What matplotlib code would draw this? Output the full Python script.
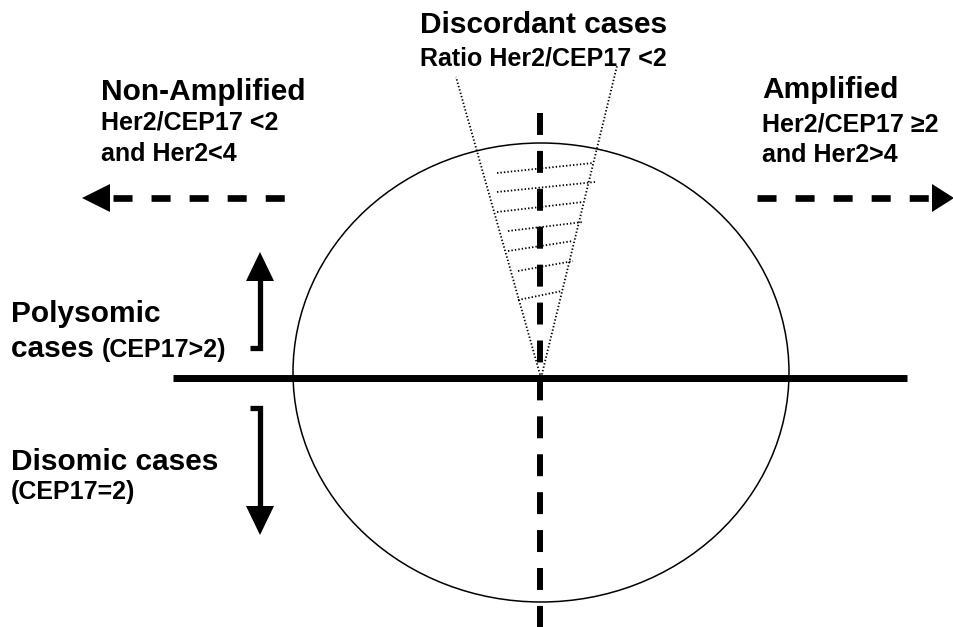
import matplotlib
matplotlib.use("Agg")
import matplotlib.pyplot as plt
from matplotlib.patches import Ellipse, Polygon

plt.rcParams['lines.scale_dashes'] = False
FONT = ['Liberation Sans', 'DejaVu Sans']

# ---- geometry (pixel coordinates of the diagram) ----
ellipse_center = (541, 372.5)
ellipse_size = (496, 459)
axis_y = 378
axis_x = 540
hline_x = [173, 907]
vline_y = [113, 640]
wedge_apex = (541, 378)
wedge_left_top = (456, 77)
wedge_right_top = (617, 66)
hatch_x0 = [497, 497, 497, 508, 508, 518, 518]
hatch_y0 = [173, 192, 212, 231, 251, 271, 300]
hatch_x1 = [593, 595, 583, 583, 573, 573, 562]
hatch_y1 = [163, 182, 202, 222, 241, 261, 291]

# ---- texts ----
title_main = "Discordant cases"
title_sub = "Ratio Her2/CEP17 <2"
left_title = "Non-Amplified"
left_sub = ["Her2/CEP17 <2", "and Her2<4"]
right_title = "Amplified"
right_sub = ["Her2/CEP17 \u22652", "and Her2>4"]
poly_lines = ["Polysomic", "cases "]
poly_small = "(CEP17>2)"
diso_line = "Disomic cases"
diso_small = "(CEP17=2)"

fig = plt.figure(figsize=(9.54, 6.27), dpi=100)
ax = fig.add_axes([0, 0, 1, 1])
ax.set_xlim(0, 954)
ax.set_ylim(627, 0)
ax.axis('off')

# ellipse
ax.add_patch(Ellipse(ellipse_center, ellipse_size[0], ellipse_size[1],
                     fill=False, ec='black', lw=1.1))
# horizontal axis
ax.plot(hline_x, [axis_y, axis_y], color='black', lw=5.0, solid_capstyle='butt')
# vertical dashed axis
ax.plot([axis_x, axis_x], vline_y, color='black', lw=4.3,
        linestyle=(0, (15.8, 11.5)), dash_capstyle='butt')

# wedge
dot = (0, (1.0, 1.5))
ax.plot([wedge_apex[0], wedge_left_top[0]], [wedge_apex[1], wedge_left_top[1]],
        color='black', lw=1.3, linestyle=dot)
ax.plot([wedge_apex[0], wedge_right_top[0]], [wedge_apex[1], wedge_right_top[1]],
        color='black', lw=1.3, linestyle=dot)
for x0, y0, x1, y1 in zip(hatch_x0, hatch_y0, hatch_x1, hatch_y1):
    ax.plot([x0, x1], [y0, y1], color='black', lw=1.3, linestyle=dot)

# horizontal dashed arrows
arr_y = 198
ax.plot([113, 290], [arr_y, arr_y], color='black', lw=4.8,
        linestyle=(0, (13.7, 13.7)), dash_capstyle='butt')
ax.add_patch(Polygon([(82, arr_y), (110, arr_y - 14), (110, arr_y + 14)],
                     closed=True, color='black', lw=0))
ax.plot([757, 933], [arr_y, arr_y], color='black', lw=4.8,
        linestyle=(0, (13.7, 13.7)), dash_capstyle='butt')
ax.add_patch(Polygon([(954, arr_y), (932, arr_y - 14), (932, arr_y + 14)],
                     closed=True, color='black', lw=0))

# vertical arrows
vx = 260
ax.plot([250, vx, vx], [348, 348, 279], color='black', lw=3.8,
        solid_joinstyle='miter', solid_capstyle='butt')
ax.add_patch(Polygon([(vx, 252), (vx - 14, 281), (vx + 14, 281)],
                     closed=True, color='black', lw=0))
ax.plot([250, vx, vx], [408, 408, 508], color='black', lw=3.8,
        solid_joinstyle='miter', solid_capstyle='butt')
ax.add_patch(Polygon([(vx, 535), (vx - 14, 506), (vx + 14, 506)],
                     closed=True, color='black', lw=0))

BIG = 21.5
SMALL = 18
kw = dict(family=FONT, fontweight='bold', va='baseline', color='black')

ax.text(544, 33, title_main, ha='center', fontsize=BIG, **kw)
ax.text(543, 65, title_sub, ha='center', fontsize=SMALL, **kw)

ax.text(101, 100, left_title, ha='left', fontsize=BIG, **kw)
ax.text(101, 129, left_sub[0], ha='left', fontsize=SMALL, **kw)
ax.text(101, 161, left_sub[1], ha='left', fontsize=SMALL, **kw)

ax.text(762, 98, right_title, ha='left', fontsize=BIG, **kw)
ax.text(762, 131, right_sub[0], ha='left', fontsize=SMALL, **kw)
ax.text(762, 162, right_sub[1], ha='left', fontsize=SMALL, **kw)

ax.text(11, 322, poly_lines[0], ha='left', fontsize=BIG, **kw)
ax.text(11, 357, poly_lines[1], ha='left', fontsize=BIG, **kw)
ax.text(102, 357, poly_small, ha='left', fontsize=SMALL, **kw)

ax.text(11, 470, diso_line, ha='left', fontsize=BIG, **kw)
ax.text(11, 499, diso_small, ha='left', fontsize=SMALL, **kw)

fig.savefig('out.png', dpi=100)
